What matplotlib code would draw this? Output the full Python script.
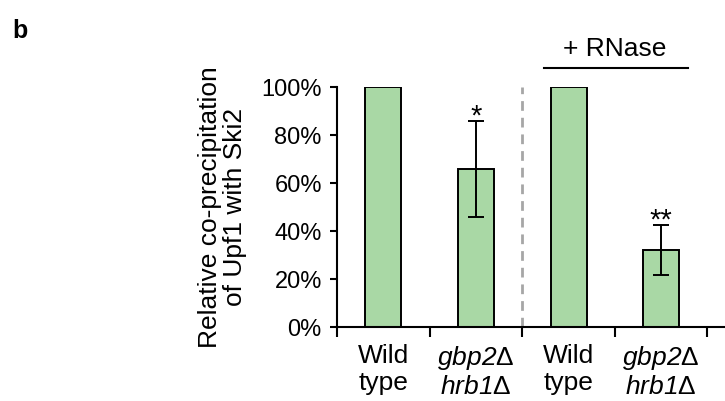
import matplotlib
matplotlib.use("Agg")
import matplotlib.pyplot as plt

plt.rcParams['font.family'] = ['Liberation Sans', 'DejaVu Sans']
plt.rcParams['mathtext.fontset'] = 'custom'
plt.rcParams['mathtext.it'] = 'Liberation Sans:italic'
plt.rcParams['mathtext.rm'] = 'Liberation Sans:italic'

categories = ["Wild\ntype", "$gbp2$Δ\n$hrb1$Δ",
              "Wild\ntype", "$gbp2$Δ\n$hrb1$Δ"]
values = [100, 66, 100, 32]
errors = [0, 20, 0, 10.5]
stars = ["", "*", "", "**"]
yticks = [0, 20, 40, 60, 80, 100]
ytick_labels = ["0%", "20%", "40%", "60%", "80%", "100%"]

fig = plt.figure(figsize=(7.25, 4.01), dpi=100)
ax = fig.add_axes([0.465, 0.1845, 0.535, 1 - 0.1845 - (87 / 401)])

x = list(range(len(values)))
ax.bar(x, values, width=0.39, color="#a9d8a5", edgecolor="black", linewidth=1.4, zorder=2)
for xi, v, e, s in zip(x, values, errors, stars):
    if e > 0:
        ax.errorbar(xi, v, yerr=e, color="black", capsize=5.5, elinewidth=1.4,
                    capthick=1.4, zorder=3)
    if s:
        ax.text(xi, v + e - 1.5, s, ha="center", va="baseline", fontsize=21)

ax.set_xlim(-0.5, 3.69)
ax.set_ylim(0, 100)
ax.plot([1.5, 1.5], [0, 100], color="#a6a6a6", linestyle=(0, (3.5, 2.5)), linewidth=2, zorder=1)

ax.spines['top'].set_visible(False)
ax.spines['right'].set_visible(False)
ax.spines['left'].set_linewidth(1.5)
ax.spines['bottom'].set_linewidth(1.5)

ax.set_yticks(yticks)
ax.set_yticklabels(ytick_labels, fontsize=17)
ax.tick_params(axis='y', direction='out', length=5, width=1.5, pad=6)

ax.set_xticks([-0.5, 0.5, 1.5, 2.5, 3.5])
ax.set_xticklabels([])
ax.tick_params(axis='x', which='major', direction='out', length=7, width=1.5)
ax.set_xticks(x, minor=True)
ax.set_xticklabels(categories, minor=True, fontsize=19, linespacing=1.2)
ax.tick_params(axis='x', which='minor', length=0, pad=12)

ax.set_ylabel("Relative co-precipitation\nof Upf1 with Ski2", fontsize=19, linespacing=1.1, labelpad=10)

# + RNase bracket
ax.plot([1.74, 3.29], [108, 108], color="black", linewidth=1.5, clip_on=False)
ax.text(2.5, 111, "+ RNase", ha="center", va="bottom", fontsize=19)

fig.text(12 / 725, 1 - 38 / 401, "b", fontsize=18, fontweight="bold", ha="left", va="baseline")

fig.savefig("out.png", dpi=100)
